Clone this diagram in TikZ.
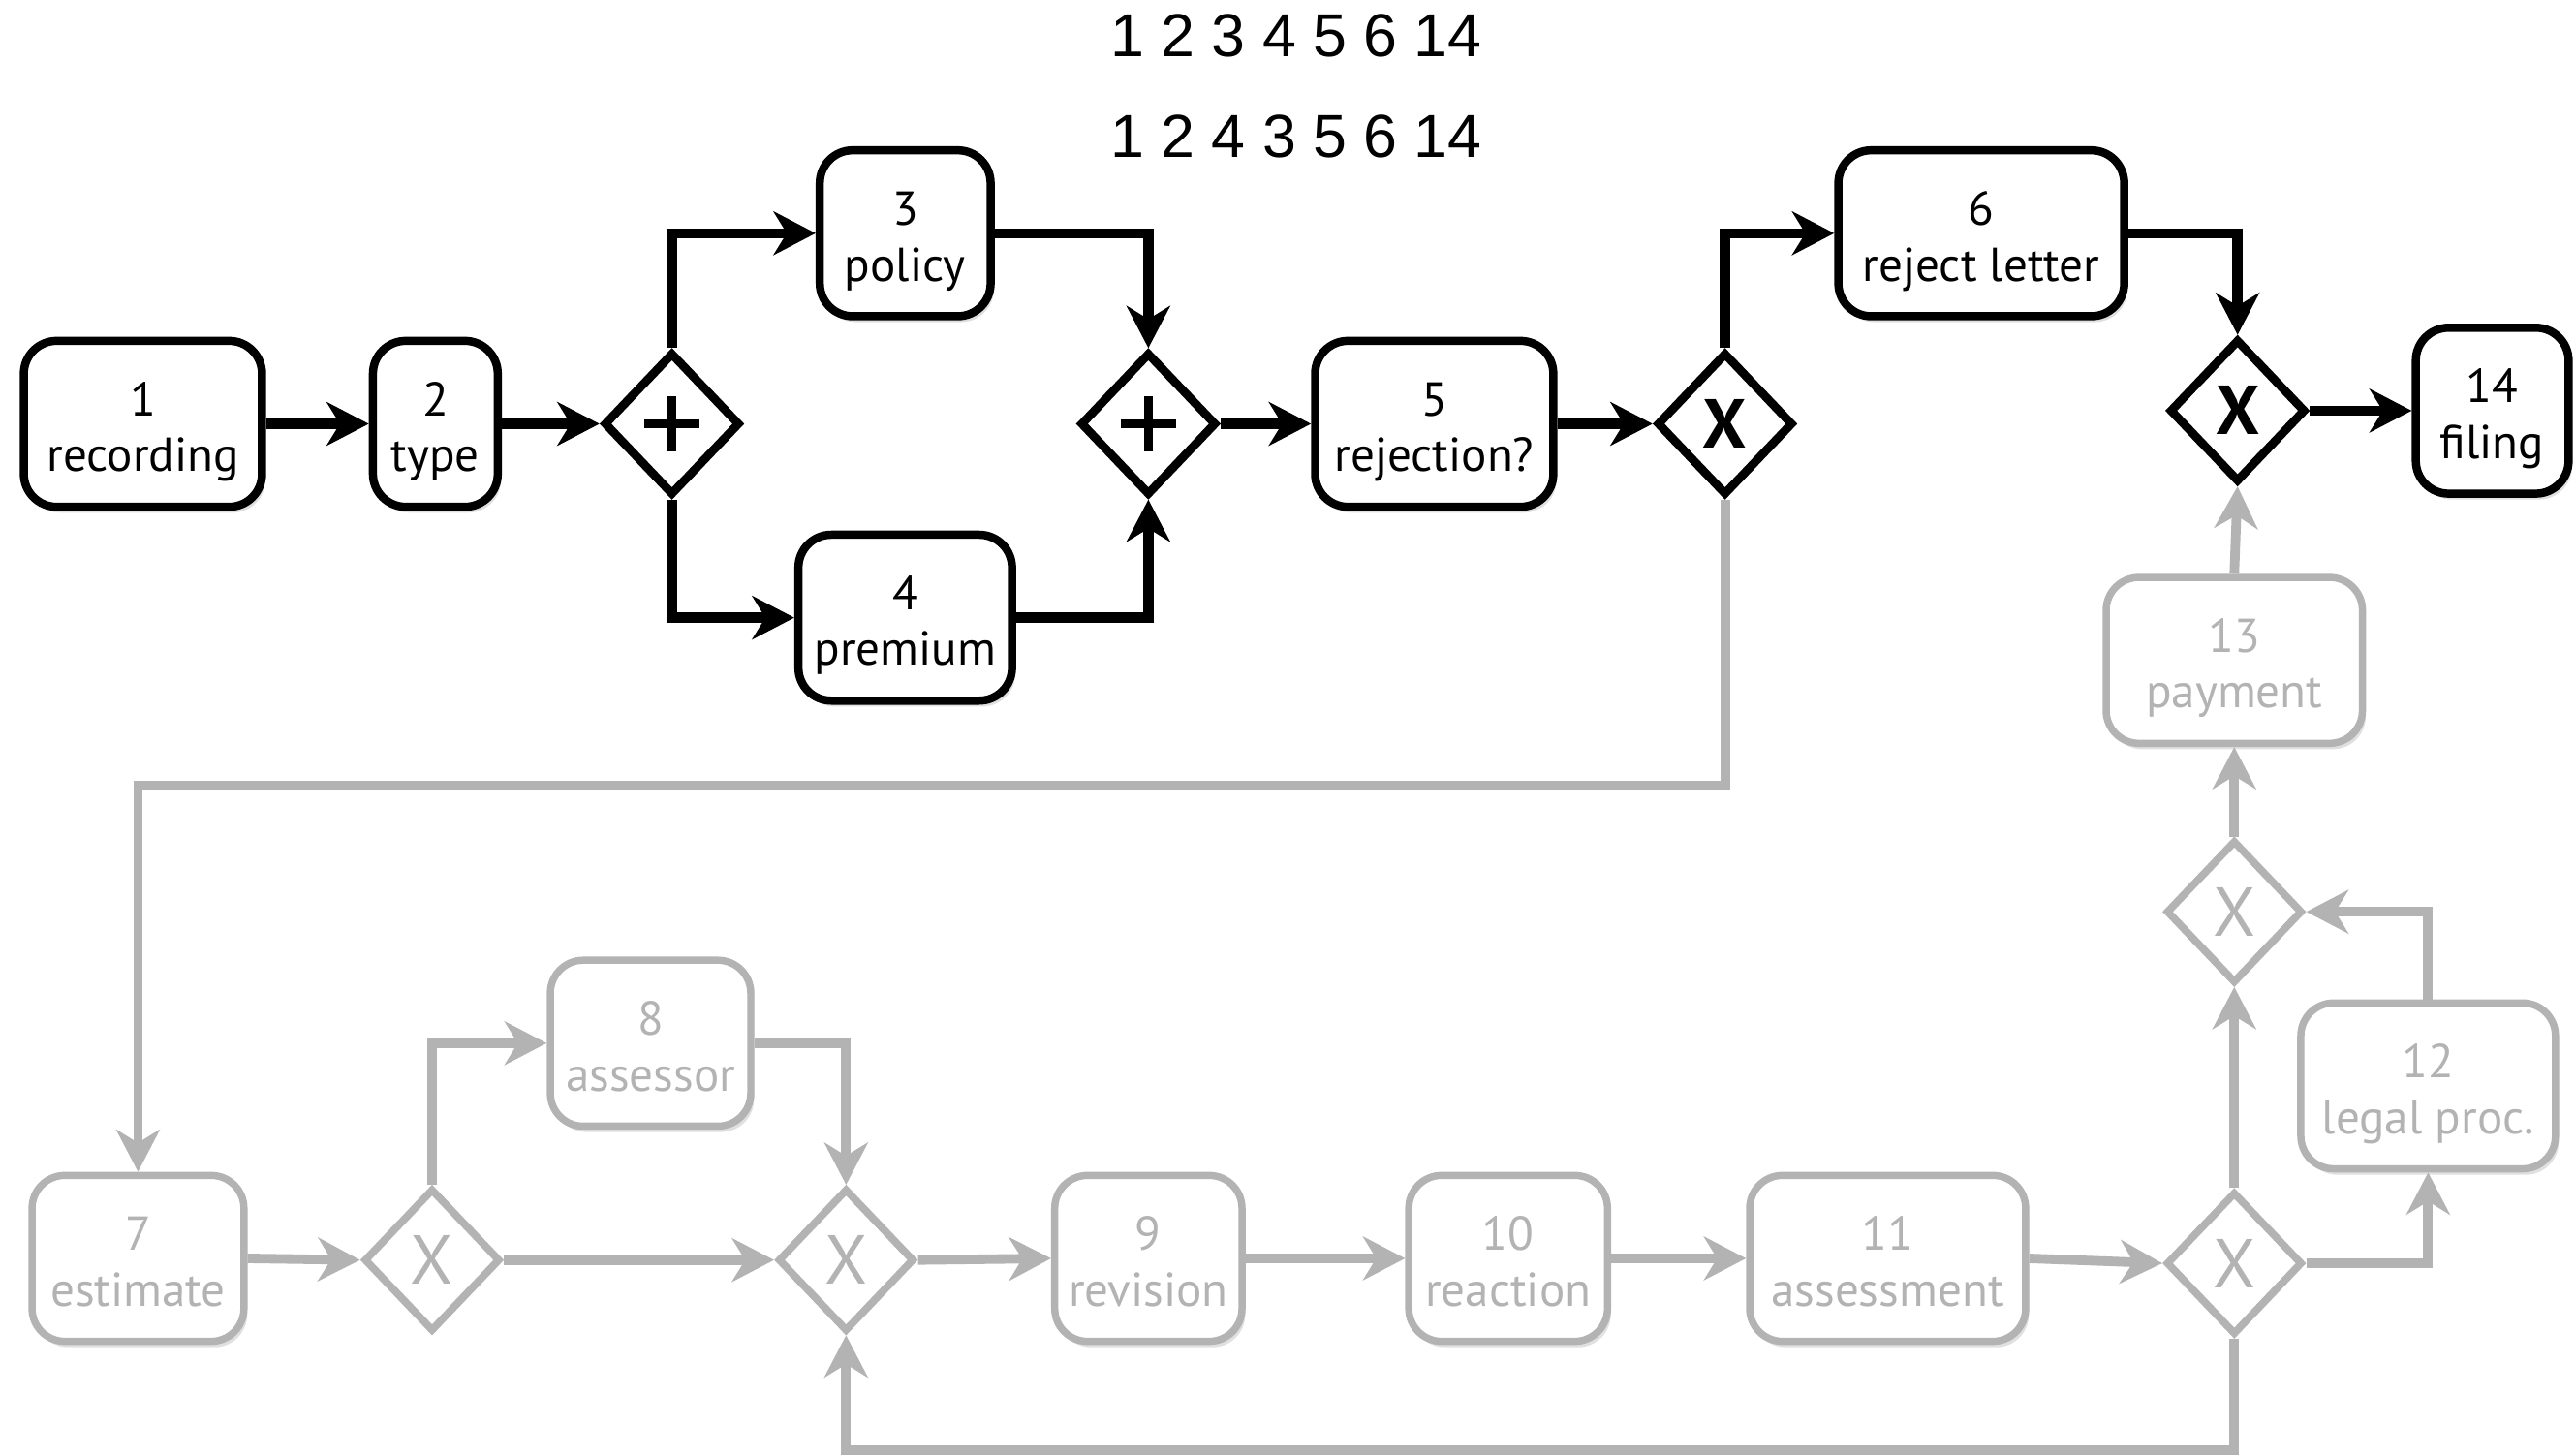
\documentclass[tikz,border=0pt]{standalone}
\usepackage{fontspec}
\setmainfont{PT Sans}
\newfontfamily\seqfont{Liberation Sans}
\usetikzlibrary{arrows.meta,shapes.geometric,shadows}
\definecolor{lg}{HTML}{B3B3B3}
\newcommand\tk[2]{\rule{0pt}{23pt}#1\\#2\rule[-5.9pt]{0pt}{5.9pt}}
\begin{document}
\begin{tikzpicture}[x=0.25mm,y=-0.25mm,
  task/.style={draw, rounded corners=5mm, fill=white, line width=1.25mm, align=center,
    inner sep=0pt, minimum height=25.25mm, font=\fontsize{20.6}{24.2}\selectfont,
    drop shadow={shadow xshift=0.5mm, shadow yshift=-0.9mm, opacity=0.12, fill=black}},
  bw/.style={minimum width=#1*0.25mm},
  gw/.style={draw, diamond, fill=white, line width=1.3mm, inner sep=0pt,
    minimum width=20.75mm, minimum height=21.75mm,
    font=\fontsize{30}{30}\selectfont\bfseries},
  plus/.style={path picture={
    \draw[line width=1.3mm] ([xshift=-4.25mm]path picture bounding box.center) -- ([xshift=4.25mm]path picture bounding box.center)
      ([yshift=-4.25mm]path picture bounding box.center) -- ([yshift=4.25mm]path picture bounding box.center);}},
  dim/.style={draw=lg, text=lg, line width=1.1mm},
  dimgw/.style={gw, draw=lg, text=lg, line width=1.15mm, font=\fontsize{30}{30}\selectfont},
  flow/.style={line width=1.55mm, -{Stealth[length=6.4mm,width=6.6mm,inset=2mm]}},
  dimflow/.style={flow, draw=lg, line width=1.45mm},
  seq/.style={font=\seqfont\fontsize{26.3}{30}\selectfont, inner sep=0pt},
]
\useasboundingbox (0,0) rectangle (1568,886);

% top sequences
\node[seq] (s1) at (789,22) {1 2 3 4 5 6 14};
\node[seq] (s2) at (789,83) {1 2 4 3 5 6 14};

% black tasks
\node[task, bw=145] (b1) at (87,258) {\tk{1}{recording}};
\node[task, bw=76] (b2) at (265,258) {\tk{2}{type}};
\node[gw, plus] (gp1) at (409,258) {};
\node[task, bw=104] (b3) at (551,142) {\tk{3}{policy}};
\node[task, bw=130] (b4) at (551,376) {\tk{4}{premium}};
\node[gw, plus] (gp2) at (699,258) {};
\node[task, bw=145] (b5) at (873,258) {\tk{5}{rejection?}};
\node[gw] (gx1) at (1050,258) {X};
\node[task, bw=174] (b6) at (1206,142) {\tk{6}{reject letter}};
\node[gw] (gx2) at (1362,250) {X};
\node[task, bw=93] (b14) at (1517,250) {\tk{14}{filing}};

% gray tasks
\node[task, dim, bw=156] (b13) at (1360,402) {\tk{13}{payment}};
\node[dimgw] (gx3) at (1360,555) {X};
\node[task, dim, bw=155] (b12) at (1478,661) {\tk{12}{legal proc.}};
\node[task, dim, bw=129] (b7) at (84,766) {\tk{7}{estimate}};
\node[dimgw] (gx4) at (263,767) {X};
\node[task, dim, bw=122] (b8) at (396,635) {\tk{8}{assessor}};
\node[dimgw] (gx5) at (515,767) {X};
\node[task, dim, bw=114] (b9) at (699,766) {\tk{9}{revision}};
\node[task, dim, bw=121] (b10) at (918,766) {\tk{10}{reaction}};
\node[task, dim, bw=168] (b11) at (1149,766) {\tk{11}{assessment}};
\node[dimgw] (gx6) at (1360,769) {X};

% black flows
\draw[flow] (b1.east) -- (b2.west);
\draw[flow] (b2.east) -- (gp1.west);
\draw[flow] (gp1.north) |- (b3.west);
\draw[flow] (gp1.south) |- (b4.west);
\draw[flow] (b3.east) -| (gp2.north);
\draw[flow] (b4.east) -| (gp2.south);
\draw[flow] (gp2.east) -- (b5.west);
\draw[flow] (b5.east) -- (gx1.west);
\draw[flow] (gx1.north) |- (b6.west);
\draw[flow] (b6.east) -| (gx2.north);
\draw[flow] (gx2.east) -- (b14.west);

% gray flows
\draw[dimflow] (gx1.south) -- ++(0,174) -| (b7.north);
\draw[dimflow] (b7.east) -- (gx4.west);
\draw[dimflow] (gx4.east) -- (gx5.west);
\draw[dimflow] (gx4.north) |- (b8.west);
\draw[dimflow] (b8.east) -| (gx5.north);
\draw[dimflow] (gx5.east) -- (b9.west);
\draw[dimflow] (b9.east) -- (b10.west);
\draw[dimflow] (b10.east) -- (b11.west);
\draw[dimflow] (b11.east) -- (gx6.west);
\draw[dimflow] (gx6.north) -- (gx3.south);
\draw[dimflow] (gx6.east) -| (b12.south);
\draw[dimflow] (b12.north) |- (gx3.east);
\draw[dimflow] (gx3.north) -- (b13.south);
\draw[dimflow] (b13.north) -- (gx2.south);
\draw[dimflow] (gx6.south) -- ++(0,68) -| (gx5.south);
\end{tikzpicture}
\end{document}
